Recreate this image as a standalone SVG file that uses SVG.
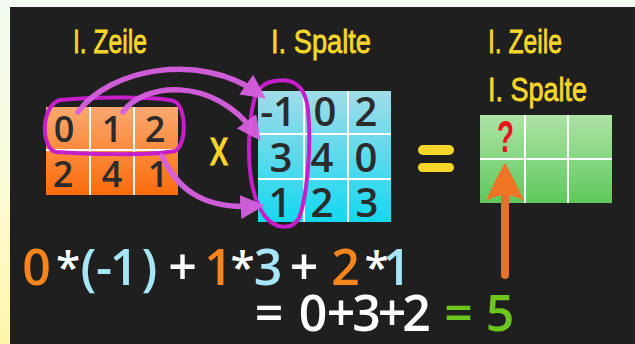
<svg xmlns="http://www.w3.org/2000/svg" width="635" height="344" viewBox="0 0 635 344">
  <defs>
    <linearGradient id="gLeft" x1="0" y1="0" x2="0" y2="1">
      <stop offset="0" stop-color="#f2fcf2"/>
      <stop offset="0.45" stop-color="#fbfde0"/>
      <stop offset="1" stop-color="#fff5a8"/>
    </linearGradient>
    <linearGradient id="gOrange" x1="0" y1="0" x2="0" y2="1">
      <stop offset="0" stop-color="#f9a870"/>
      <stop offset="0.5" stop-color="#fb8a3c"/>
      <stop offset="1" stop-color="#fd6c0c"/>
    </linearGradient>
    <linearGradient id="gBlue" x1="0" y1="0" x2="0" y2="1">
      <stop offset="0" stop-color="#a2dbe8"/>
      <stop offset="1" stop-color="#14d8f0"/>
    </linearGradient>
    <linearGradient id="gGreen" x1="0" y1="0" x2="0" y2="1">
      <stop offset="0" stop-color="#aee3a6"/>
      <stop offset="1" stop-color="#5ec95c"/>
    </linearGradient>
    <marker id="ah" viewBox="0 0 10 10" refX="6" refY="5" markerWidth="4.4" markerHeight="4.4" orient="auto" markerUnits="strokeWidth">
      <path d="M0,0 L10,5 L0,10 Z" fill="#d860e0"/>
    </marker>
  </defs>
  <style>
    .title { font-family: "Liberation Sans", Arial, sans-serif; font-size: 34px; fill: #f7d62a; stroke: #f7d62a; stroke-width: 0.8; }
    .cell { font-family: "Open Sans", "DejaVu Sans", sans-serif; font-weight: 600; fill: #2b2b2b; text-anchor: middle; }
    .grid { stroke: #ffffff; stroke-width: 2; }
    .f { font-family: "Open Sans", "DejaVu Sans", sans-serif; font-weight: 600; font-size: 50px; text-anchor: middle; }
    .s { font-size: 44px; }
    .or { fill: #f8841c; }
    .lb { fill: #a6e6f6; }
    .wh { fill: #ffffff; }
    .gr { fill: #6cc61e; }
    .arc { fill: none; stroke: #d860e0; stroke-width: 5.5; stroke-linecap: round; opacity: 0.95; }
    .loop { fill: none; stroke: #c61ec8; stroke-width: 4; }
  </style>

  <!-- background -->
  <rect x="0" y="0" width="635" height="344" fill="#f3fcf1"/>
  <rect x="0" y="0" width="10" height="344" fill="url(#gLeft)"/>
  <rect x="10" y="7" width="625" height="337" fill="#1f1f1f"/>

  <!-- titles -->
  <g id="title-zeile">
    <text class="title" x="73" y="53" textLength="74" lengthAdjust="spacingAndGlyphs">I. Zeile</text>
  </g>
  <g id="title-spalte">
    <text class="title" x="271" y="53" textLength="100" lengthAdjust="spacingAndGlyphs">I. Spalte</text>
  </g>
  <g id="title-result">
    <text class="title" x="488" y="53" textLength="74" lengthAdjust="spacingAndGlyphs">I. Zeile</text>
    <text class="title" x="488" y="101" textLength="99" lengthAdjust="spacingAndGlyphs">I. Spalte</text>
  </g>

  <!-- orange matrix -->
  <g id="matrix-a">
    <rect x="46" y="107" width="132" height="88" fill="url(#gOrange)"/>
    <line class="grid" x1="46" y1="150" x2="178" y2="150"/>
    <line class="grid" x1="90" y1="107" x2="90" y2="195"/>
    <line class="grid" x1="134" y1="107" x2="134" y2="195"/>
    <g class="cell" font-size="36">
      <text x="64" y="142">0</text>
      <text x="112" y="142">1</text>
      <text x="155" y="142">2</text>
      <text x="63" y="187">2</text>
      <text x="112" y="187">4</text>
      <text x="158" y="187">1</text>
    </g>
    <path class="loop" d="M60,100 C100,96 158,97 174,101 C187,107 187,145 175,151 C150,156 82,154 56,152 C41,149 40,106 60,100 Z"/>
  </g>

  <!-- multiply sign -->
  <g id="op-times">
    <text x="210" y="165" font-family="Liberation Sans, Arial, sans-serif" font-size="50" fill="#f7d62a" stroke="#f7d62a" stroke-width="1.2" textLength="18" lengthAdjust="spacingAndGlyphs">x</text>
  </g>

  <!-- blue matrix -->
  <g id="matrix-b">
    <rect x="258" y="91" width="133" height="131" fill="url(#gBlue)"/>
    <line class="grid" x1="258" y1="134" x2="391" y2="134"/>
    <line class="grid" x1="258" y1="179" x2="391" y2="179"/>
    <line class="grid" x1="304" y1="91" x2="304" y2="222"/>
    <line class="grid" x1="348" y1="91" x2="348" y2="222"/>
    <g class="cell" font-size="40">
      <text x="278" y="126">-1</text>
      <text x="325" y="126">0</text>
      <text x="366" y="126">2</text>
      <text x="281" y="172">3</text>
      <text x="322" y="172">4</text>
      <text x="366" y="172">0</text>
      <text x="280" y="217">1</text>
      <text x="322" y="217">2</text>
      <text x="367" y="217">3</text>
    </g>
    <path class="loop" d="M270,82 C290,77 305,82 308,110 C312,150 306,200 299,218 C292,231 274,229 264,215 C250,195 247,160 250,128 C252,100 256,86 270,82 Z"/>
  </g>

  <!-- equals sign -->
  <g id="op-equals">
    <rect x="418" y="145" width="36" height="10" rx="5" fill="#f7d62a"/>
    <rect x="418" y="163" width="36" height="9" rx="4.5" fill="#f7d62a"/>
  </g>

  <!-- result matrix -->
  <g id="matrix-c">
    <rect x="480" y="115" width="132" height="88" fill="url(#gGreen)"/>
    <line class="grid" x1="480" y1="159" x2="612" y2="159"/>
    <line class="grid" x1="525" y1="115" x2="525" y2="203"/>
    <line class="grid" x1="568" y1="115" x2="568" y2="203"/>
    <text x="497" y="152" font-family="Liberation Sans, Arial, sans-serif" font-weight="bold" font-size="44" fill="#e8141c" textLength="17" lengthAdjust="spacingAndGlyphs">?</text>
  </g>

  <!-- formula -->
  <g id="formula">
    <text class="f" y="285"><tspan class="or" x="36.5">0</tspan><tspan class="s wh" x="68" y="283">*</tspan><tspan class="lb" x="88.5" y="285">(</tspan><tspan class="lb" x="104">-</tspan><tspan class="lb" x="124">1</tspan><tspan class="lb" x="149.5">)</tspan><tspan class="wh" x="182.5">+</tspan><tspan class="or" x="218.5">1</tspan><tspan class="s wh" x="242.5" y="283">*</tspan><tspan class="lb" x="268" y="285">3</tspan><tspan class="wh" x="304">+</tspan><tspan class="or" x="345.5">2</tspan><tspan class="s wh" x="376.5" y="283">*</tspan><tspan class="lb" x="397" y="285">1</tspan></text>
    <text class="f" y="331"><tspan class="wh" x="269">=</tspan><tspan class="wh" x="313">0</tspan><tspan class="wh" x="341">+</tspan><tspan class="wh" x="366.5">3</tspan><tspan class="wh" x="392">+</tspan><tspan class="wh" x="416.5">2</tspan><tspan class="gr" x="458.5">=</tspan><tspan class="gr" x="500">5</tspan></text>
  </g>

  <!-- connectors -->
  <g id="connectors">
    <path class="arc" d="M78,112 C110,68 200,52 258,93" marker-end="url(#ah)"/>
    <path class="arc" d="M123,112 C142,84 212,74 255,133" marker-end="url(#ah)"/>
    <path class="arc" d="M162,156 C176,186 200,210 255,206" marker-end="url(#ah)"/>
    <g id="result-arrow">
      <rect x="501" y="185" width="8" height="94" rx="4" fill="#e2702e"/>
      <path d="M505,163 Q515,180 524,201 Q514,195 505,195 Q496,195 486,201 Q495,180 505,163 Z" fill="#f07426"/>
    </g>
  </g>
</svg>
